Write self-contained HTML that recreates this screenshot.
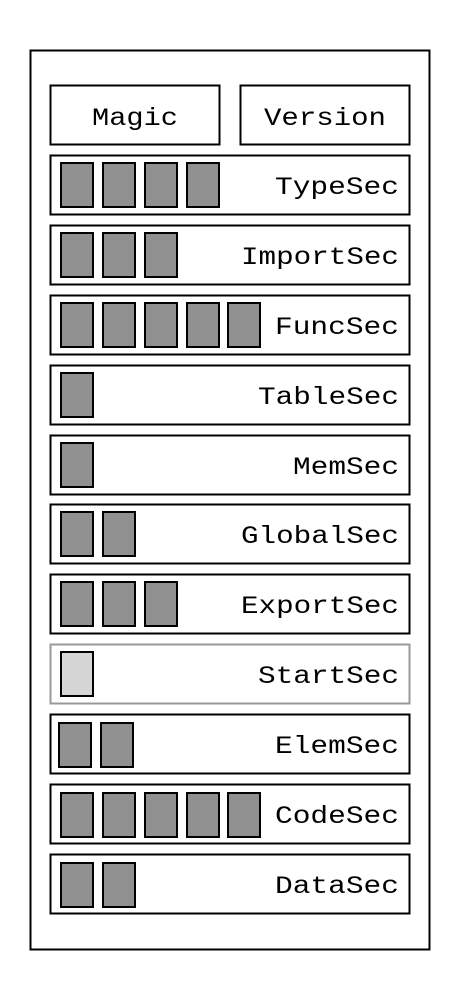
<!DOCTYPE html>
<html><head><meta charset="utf-8"><style>html,body{margin:0;padding:0;background:#fff}</style></head>
<body>
<svg width="460" height="1000" xmlns="http://www.w3.org/2000/svg" font-family="'Liberation Mono', monospace" font-size="25">
<rect x="30.5" y="50.5" width="399" height="899" fill="#fff" stroke="#000" stroke-width="2"/>
<rect x="50.5" y="85.5" width="169" height="59" fill="#fff" stroke="#000" stroke-width="2"/>
<rect x="240.5" y="85.5" width="169" height="59" fill="#fff" stroke="#000" stroke-width="2"/>
<text x="135" y="125" text-anchor="middle" textLength="86" lengthAdjust="spacingAndGlyphs">Magic</text>
<text x="325" y="125" text-anchor="middle" textLength="122" lengthAdjust="spacingAndGlyphs">Version</text>
<g stroke-width="2">
<g stroke="#000" fill="#fff">
<rect x="50.5" y="155.5" width="359" height="59"/>
<rect x="50.5" y="225.5" width="359" height="59"/>
<rect x="50.5" y="295.5" width="359" height="59"/>
<rect x="50.5" y="365.5" width="359" height="59"/>
<rect x="50.5" y="435.5" width="359" height="59"/>
<rect x="50.5" y="504.5" width="359" height="59"/>
<rect x="50.5" y="574.5" width="359" height="59"/>
<rect x="50.5" y="714.5" width="359" height="59"/>
<rect x="50.5" y="784.5" width="359" height="59"/>
<rect x="50.5" y="854.5" width="359" height="59"/>
</g>
<rect x="50.5" y="644.5" width="359" height="59" fill="#fff" stroke="#999"/>
<g stroke="#000" fill="#909090">
<rect x="61" y="163" width="32" height="44"/><rect x="103" y="163" width="32" height="44"/><rect x="145" y="163" width="32" height="44"/><rect x="187" y="163" width="32" height="44"/>
<rect x="61" y="233" width="32" height="44"/><rect x="103" y="233" width="32" height="44"/><rect x="145" y="233" width="32" height="44"/>
<rect x="61" y="303" width="32" height="44"/><rect x="103" y="303" width="32" height="44"/><rect x="145" y="303" width="32" height="44"/><rect x="187" y="303" width="32" height="44"/><rect x="228" y="303" width="32" height="44"/>
<rect x="61" y="373" width="32" height="44"/>
<rect x="61" y="443" width="32" height="44"/>
<rect x="61" y="512" width="32" height="44"/><rect x="103" y="512" width="32" height="44"/>
<rect x="61" y="582" width="32" height="44"/><rect x="103" y="582" width="32" height="44"/><rect x="145" y="582" width="32" height="44"/>
<rect x="59" y="723" width="32" height="44"/><rect x="101" y="723" width="32" height="44"/>
<rect x="61" y="793" width="32" height="44"/><rect x="103" y="793" width="32" height="44"/><rect x="145" y="793" width="32" height="44"/><rect x="187" y="793" width="32" height="44"/><rect x="228" y="793" width="32" height="44"/>
<rect x="61" y="863" width="32" height="44"/><rect x="103" y="863" width="32" height="44"/>
</g>
<rect x="61" y="652" width="32" height="44" fill="#d6d6d6" stroke="#000"/>
</g>
<g text-anchor="end" lengthAdjust="spacingAndGlyphs">
<text x="399" y="194" textLength="124" lengthAdjust="spacingAndGlyphs">TypeSec</text>
<text x="399" y="264" textLength="158" lengthAdjust="spacingAndGlyphs">ImportSec</text>
<text x="399" y="334" textLength="124" lengthAdjust="spacingAndGlyphs">FuncSec</text>
<text x="399" y="404" textLength="141" lengthAdjust="spacingAndGlyphs">TableSec</text>
<text x="399" y="474" textLength="106" lengthAdjust="spacingAndGlyphs">MemSec</text>
<text x="399" y="543" textLength="158" lengthAdjust="spacingAndGlyphs">GlobalSec</text>
<text x="399" y="613" textLength="158" lengthAdjust="spacingAndGlyphs">ExportSec</text>
<text x="399" y="683" textLength="141" lengthAdjust="spacingAndGlyphs">StartSec</text>
<text x="399" y="753" textLength="124" lengthAdjust="spacingAndGlyphs">ElemSec</text>
<text x="399" y="823" textLength="124" lengthAdjust="spacingAndGlyphs">CodeSec</text>
<text x="399" y="893" textLength="124" lengthAdjust="spacingAndGlyphs">DataSec</text>
</g>
</svg>
</body></html>
